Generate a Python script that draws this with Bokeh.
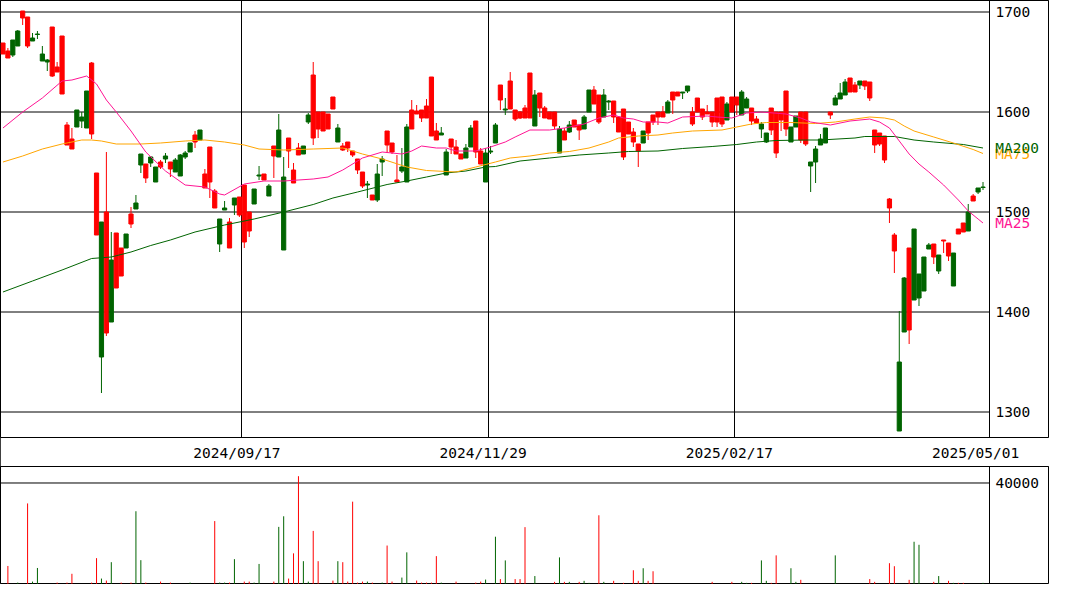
from bokeh.plotting import figure
from bokeh.models import Range1d, FixedTicker, ColumnDataSource
from bokeh.layouts import column
from bokeh.core.properties import value
from bokeh.embed import file_html
from bokeh.resources import INLINE

# ---------------- data ----------------
tick_labels = ["2024/09/17", "2024/11/29", "2025/02/17", "2025/05/01"]
tick_index = [49, 99, 149, 199]          # candle index of each labelled date

opens = [1658,1654,1672,1681,1694,1666,1674,1678,1658,1652,
         1636,1640,1618,1567,1563,1602,1595,1621,1578,1477,
         1490,1379,1452,1424,1436,1478,1488,1509,1558,1534,
         1555,1545,1545,1556,1543,1552,1557,1559,1569,1570,
         1582,1524,1530,1504,1493,1504,1464,1514,1497,1470,
         1481,1523,1537,1532,1526,1556,1582,1535,1561,1529,
         1557,1566,1597,1574,1583,1581,1583,1603,1584,1562,
         1564,1557,1542,1526,1528,1512,1538,1553,1567,1560,
         1530,1545,1585,1583,1598,1594,1594,1576,1572,1579,
         1560,1565,1558,1553,1564,1584,1560,1548,1559,1561,
         1587,1612,1603,1603,1593,1594,1594,1594,1617,1604,
         1594,1593,1586,1583,1572,1587,1585,1582,1595,1622,
         1608,1590,1617,1611,1595,1580,1555,1578,1570,1561,
         1581,1579,1590,1595,1595,1610,1612,1616,1620,1626,
         1588,1600,1595,1598,1590,1590,1588,1608,1600,1607,
         1620,1613,1591,1589,1588,1579,1582,1559,1592,1583,
         1585,1596,1572,1568,1550,1563,1573,1584,1597,1614,
         1619,1630,1620,1620,1631,1626,1614,1567,1568,1552,
         1504,1461,1350,1434,1382,1483,1438,1455,1467,1455,
         1457,1471,1456,1459,1478,1480,1500,1511,1524,1525]
highs = [1669,1664,1672,1682,1701,1695,1679,1681,1666,1653,
         1685,1650,1676,1590,1584,1602,1600,1621,1650,1539,
         1490,1560,1480,1479,1464,1478,1505,1517,1558,1548,
         1556,1545,1552,1559,1550,1554,1558,1561,1569,1581,
         1582,1543,1565,1523,1493,1511,1494,1514,1515,1527,
         1500,1523,1546,1538,1528,1566,1598,1555,1574,1549,
         1569,1566,1599,1650,1600,1600,1598,1615,1588,1569,
         1570,1561,1553,1540,1531,1517,1548,1556,1581,1569,
         1557,1564,1588,1612,1607,1602,1613,1635,1589,1585,
         1563,1573,1572,1558,1568,1587,1591,1564,1564,1566,
         1589,1627,1614,1640,1602,1601,1607,1639,1622,1619,
         1606,1600,1600,1586,1584,1591,1592,1587,1597,1622,
         1626,1617,1623,1612,1611,1595,1603,1590,1584,1568,
         1581,1590,1597,1600,1606,1612,1620,1620,1620,1626,
         1605,1614,1603,1607,1600,1614,1615,1610,1615,1615,
         1622,1615,1604,1596,1590,1579,1604,1600,1600,1621,
         1585,1596,1600,1600,1550,1566,1578,1584,1600,1617,
         1629,1633,1634,1630,1631,1631,1630,1582,1579,1576,
         1514,1479,1401,1435,1464,1483,1438,1455,1469,1468,
         1457,1472,1469,1459,1483,1489,1508,1518,1524,1530]
lows = [1658,1654,1655,1666,1687,1664,1671,1673,1651,1641,
        1635,1640,1618,1567,1563,1585,1584,1584,1573,1477,
        1319,1376,1390,1424,1436,1464,1484,1503,1539,1529,
        1545,1530,1543,1549,1535,1540,1536,1553,1560,1564,
        1572,1524,1514,1504,1460,1502,1464,1497,1495,1464,
        1475,1508,1532,1532,1516,1534,1555,1462,1544,1529,
        1557,1558,1588,1567,1574,1581,1583,1603,1570,1561,
        1560,1555,1538,1524,1514,1512,1510,1536,1559,1558,
        1530,1539,1530,1583,1598,1590,1594,1576,1572,1577,
        1537,1558,1558,1553,1554,1565,1554,1548,1530,1558,
        1569,1602,1597,1603,1591,1593,1594,1594,1586,1595,
        1594,1593,1583,1559,1572,1579,1585,1572,1583,1600,
        1608,1588,1595,1602,1589,1580,1552,1578,1565,1545,
        1569,1572,1587,1587,1595,1599,1598,1616,1613,1619,
        1586,1600,1592,1598,1585,1585,1585,1592,1600,1597,
        1597,1604,1587,1589,1574,1569,1577,1554,1581,1576,
        1570,1585,1569,1566,1520,1529,1567,1569,1593,1607,
        1613,1617,1620,1620,1623,1622,1611,1559,1566,1549,
        1489,1439,1281,1380,1368,1412,1406,1421,1463,1448,
        1438,1459,1451,1426,1478,1480,1481,1511,1518,1522]
closes = [1669,1661,1657,1666,1701,1695,1671,1677.5,1651,1650,
          1685,1645,1676,1587,1573,1585,1591,1584,1649,1539,
          1355,1500,1390,1479,1464,1464,1498,1503,1547,1548,
          1549,1530,1550,1553,1550,1540,1536,1555,1560,1577,
          1572,1538,1565,1521,1468,1502,1490,1507,1515,1527,
          1500,1508,1536,1538,1516,1566,1555,1462,1574,1542,
          1564,1558,1590,1637,1600,1600,1598,1615,1570,1566,
          1570,1561,1553,1540,1527,1517,1512,1550,1581,1569,
          1532,1541,1530,1602,1601,1602,1606,1635,1581,1577,
          1537,1573,1565,1558,1554,1565,1591,1561,1530,1560,
          1569,1627,1602,1631,1602,1600,1604,1639,1586,1619,
          1604,1600,1600,1559,1581,1580,1592,1587,1583,1600,
          1622,1617,1595,1610,1611,1595,1603,1590,1580,1568,
          1569,1590,1597,1600,1600,1599,1620,1620,1619,1621,
          1600,1614,1603,1600,1600,1614,1615,1592,1615,1615,
          1597,1604,1604,1593,1583,1570,1604,1600,1600,1621,
          1570,1585,1600,1600,1546,1550,1567,1569,1600,1607,
          1613,1617,1634,1627,1627,1631,1630,1582,1579,1576,
          1513,1477,1281,1380,1464,1412,1414,1421,1463,1468,
          1441,1472,1469,1426,1483,1489,1481,1516,1520,1524.5]
volumes = [0,7100,0,500,0,31900,900,6300,0,0,
           0,500,0,500,4000,0,0,0,500,10200,
           2100,1300,8600,0,500,0,500,28800,9400,500,
           0,0,900,0,500,0,0,0,500,0,
           0,0,0,24900,500,500,500,9800,0,900,
           900,500,7900,0,0,900,22600,26800,2100,12100,
           42700,9000,900,21000,9000,0,0,1300,9000,8600,
           900,32600,500,900,900,500,0,500,15200,900,
           0,2500,12500,0,1300,500,500,500,11000,500,
           0,0,900,0,0,0,500,900,1700,0,
           18700,1900,9300,0,1900,1900,22500,0,3100,0,
           0,0,800,10500,800,800,0,800,1200,400,
           0,27200,800,0,1200,0,400,0,5400,1200,
           6200,1200,5000,0,0,0,0,0,0,0,
           0,0,0,0,800,0,0,0,800,0,
           800,400,400,0,9300,1200,400,11300,0,0,
           6200,800,1600,0,0,0,0,0,0,11300,
           0,0,0,0,0,0,1900,800,0,0,
           8200,7000,0,0,1600,16700,15500,0,0,800,
           3100,0,1200,400,400,400,0,0,0,400]

ma25_idx = [0,4,8,12,14,17,19,21,23,26,29,33,37,41,44,45,49,53,57,63,66,69,73,77,81,
            83,85,88,90,92,96,99,102,104,107,111,114,118,121,124,126,128,130,133,135,
            138,143,145,148,151,154,159,162,164,168,172,176,178,180,182,184,186,188,191,
            194,196,198,199]
ma25_val = [1584,1600,1614,1631,1632,1636,1628,1612,1600,1581,1560,1541,1527,1525,1518,
            1517,1528,1531,1531,1533,1535,1542,1554,1560,1558,1561,1566,1564,1564,1561,
            1561,1565,1570,1575,1582,1582,1584,1588,1594,1597,1594,1593,1590,1590,1589,
            1595,1596,1595,1594,1599,1600,1598,1594,1590,1587,1591,1593,1590,1584,1571,
            1558,1548,1540,1527,1512,1501,1493,1489]
ma75_idx = [0,4,8,12,16,18,20,23,28,32,37,41,45,49,52,57,63,69,73,77,82,86,92,96,100,
            103,107,111,115,119,123,125,129,133,136,140,146,149,152,155,160,165,169,173,
            176,179,181,183,185,189,193,197,199]
ma75_val = [1550,1556,1563,1568,1572,1572,1571,1568,1568,1569,1571,1572,1570,1567,1563,
            1562,1563,1564,1558,1553,1545,1541.5,1540,1545,1550,1554,1556,1559,1560.5,1564,
            1570,1574,1576,1577,1579,1581,1582,1585,1588,1589.5,1589.5,1588.5,1590,1593,
            1595,1594,1592,1586,1581,1575,1569,1562.5,1558.5]
ma200_idx = [0,6,12,18,22,26,30,34,39,45,51,57,63,67,72,78,82,86,90,94,98,100,105,111,
             117,123,127,133,138,144,149,153,157,163,166,173,175,181,185,189,195,199]
ma200_val = [1420,1431,1442,1453.5,1455,1460,1466.5,1472,1480,1487,1493,1500,1507.5,1514,
             1520,1527.5,1531,1535,1539,1541,1545,1545.5,1551,1554,1557,1559,1560.5,1561,
             1563.5,1565.5,1567.5,1570,1571.5,1572,1572,1574,1575.5,1575.5,1572,1570,
             1567.5,1564]
ma_names = ["MA75", "MA200", "MA25"]

price_levels = [1300, 1400, 1500, 1600, 1700]
vol_levels = [40000]

# ---------------- styling ----------------
UP = "#ff0000"
DOWN = "#006400"
C25 = "#ff1493"
C75 = "#ffa500"
C200 = "#006400"
FONT = "DejaVu Sans Mono"
FSIZE = "14.5px"

W = 1049
P_FRAME_H = 437
P_AXIS_H = 29
V_H = 584 - P_FRAME_H - P_AXIS_H
X_END = 212.5      # right edge of the whole panel (data units)
AXIS_X = 200.3     # where the price/volume axis line sits
LABEL_X = 201.5    # where the MA names start

n = len(closes)
idx = list(range(n))
colors = [UP if c >= o else DOWN for o, c in zip(opens, closes)]
src = ColumnDataSource(dict(
    x=idx, open=opens, high=highs, low=lows, close=closes,
    top=[max(o, c) for o, c in zip(opens, closes)],
    bottom=[min(o, c) for o, c in zip(opens, closes)],
    color=colors,
))

x_rng = Range1d(-0.5, X_END)


def style_axis(ax, standoff):
    ax.major_tick_line_color = None
    ax.minor_tick_line_color = None
    ax.major_tick_out = 0
    ax.major_tick_in = 0
    ax.minor_tick_out = 0
    ax.minor_tick_in = 0
    ax.major_label_text_font = FONT
    ax.major_label_text_font_size = FSIZE
    ax.major_label_text_color = "black"
    ax.major_label_standoff = standoff


p = figure(width=W, height=P_FRAME_H + P_AXIS_H, x_range=x_rng,
           y_range=Range1d(1274.5, 1711.5), output_backend="svg",
           toolbar_location=None, tools="", y_axis_location="right",
           min_border_left=0, min_border_right=0, min_border_top=0,
           min_border_bottom=P_AXIS_H)
p.background_fill_color = "white"
p.border_fill_color = "white"
p.outline_line_color = "black"
p.outline_line_width = 1

# right axis drawn at the end of the candle area
p.yaxis.fixed_location = AXIS_X
p.yaxis.ticker = FixedTicker(ticks=price_levels)
p.yaxis.axis_line_color = "black"
style_axis(p.yaxis[0], 6)
p.ygrid.visible = False

label_pos = [t - 1.5 for t in tick_index]
p.xaxis.ticker = FixedTicker(ticks=label_pos)
p.xaxis.major_label_overrides = {lp: lab for lp, lab in zip(label_pos, tick_labels)}
p.xaxis.axis_line_color = None
style_axis(p.xaxis[0], 7)
p.xgrid.ticker = FixedTicker(ticks=[t - 0.5 for t in tick_index[:3]])
p.xgrid.grid_line_color = "black"
p.xgrid.grid_line_alpha = 1.0

# horizontal price grid, stopping at the axis line
p.segment(x0=[-0.5] * len(price_levels), y0=price_levels,
          x1=[AXIS_X] * len(price_levels), y1=price_levels,
          color="black", line_width=1)

# candles
p.segment(x0="x", y0="low", x1="x", y1="high", color="color", line_width=1, source=src)
p.vbar(x="x", width=0.85, top="top", bottom="bottom", fill_color="color",
       line_color="color", line_width=1, source=src)

# moving averages
p.line(ma200_idx, ma200_val, color=C200, line_width=1)
p.line(ma75_idx, ma75_val, color=C75, line_width=1)
p.line(ma25_idx, ma25_val, color=C25, line_width=1)

# MA names next to the axis, at the last value of each average
p.text(x=[LABEL_X] * 3, y=[ma75_val[-1], ma200_val[-1], ma25_val[-1]], text=ma_names,
       text_color=[C75, C200, C25], text_font=value(FONT), text_font_size=value(FSIZE),
       text_baseline="middle", text_align="left")

# ---------------- volume ----------------
vsrc = ColumnDataSource(dict(x=idx, vol=volumes, zero=[0] * n, color=colors))
v = figure(width=W, height=V_H, x_range=x_rng, y_range=Range1d(-250, 46543),
           output_backend="svg", toolbar_location=None, tools="",
           y_axis_location="right", x_axis_location=None,
           min_border_left=0, min_border_right=0, min_border_top=0, min_border_bottom=0)
v.background_fill_color = "white"
v.border_fill_color = "white"
v.outline_line_color = "black"
v.xgrid.visible = False
v.ygrid.visible = False
v.yaxis.fixed_location = AXIS_X
v.yaxis.ticker = FixedTicker(ticks=vol_levels)
v.yaxis.axis_line_color = "black"
style_axis(v.yaxis[0], 6)
v.segment(x0=[-0.5] * len(vol_levels), y0=vol_levels, x1=[AXIS_X] * len(vol_levels),
          y1=vol_levels, color="black", line_width=1)
v.segment(x0="x", y0="zero", x1="x", y1="vol", color="color", line_width=1, source=vsrc)

layout = column(p, v, spacing=0)
layout.styles = {"outline": "1px solid black", "outline-offset": "-1px"}

open("out.html", "w").write(file_html(layout, INLINE))
